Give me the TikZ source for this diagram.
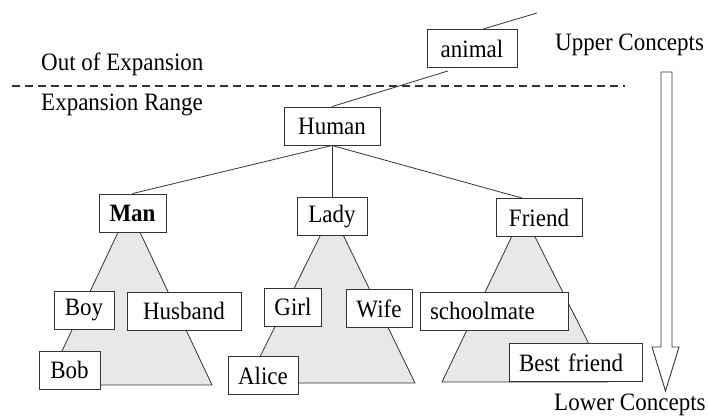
\documentclass[tikz,border=0pt]{standalone}
\usepackage{fontspec}
\setmainfont[FakeStretch=0.92]{Liberation Serif}
\usepackage{tikz}
\usetikzlibrary{calc, positioning}
\usepackage{xcolor}
\definecolor{RuleGray}{gray}{0.20}
\definecolor{AreaGray}{gray}{0.91}
\tikzset{%
  concept_box/.style={%
    rectangle,%
    draw=RuleGray,%
    fill=white,%
    line width=0.9pt,%
    minimum height=38pt,%
    inner xsep=10pt,%
    font={\fontsize{25}{29}\selectfont},%
    align=center%
  },
  tree_area/.style={%
    draw=RuleGray,%
    fill=AreaGray,%
    line width=0.8pt,%
    line join=round,%
  },
  tree_path/.style={%
    color=RuleGray,%
    line width=0.8pt,%
  },
  range_border/.style={%
    color=RuleGray,%
    line width=1.2pt,%
    dash pattern=on 8pt off 5pt,%
  },
  annotate/.style={%
    inner sep=0pt,%
    font={\fontsize{25}{29}\selectfont},%
  },
  hollow_arrow/.style={%
    draw=RuleGray,%
    fill=white,%
    line width=0.9pt,%
    line join=miter,%
  },
}

\begin{document}
\begin{tikzpicture}[x=1pt, y=-1pt]
    \useasboundingbox (0,0) rectangle (708,418);

    % shaded sub-trees
    \coordinate (man_apex) at (129,209);
    \coordinate (lady_apex) at (332,212);
    \coordinate (friend_apex) at (523,213);
    \draw [tree_area] (man_apex) -- (46,385) -- (212,385) -- cycle;
    \draw [tree_area] (lady_apex) -- (247,383) -- (415,383) -- cycle;
    \draw [tree_area] (friend_apex) -- (442,382) -- (608,382) -- cycle;

    \node [concept_box, minimum width=90pt] (Animal) at (472,48.5) {%
      animal%
    };
    \node [concept_box, minimum width=96pt] (Human) at (332,126) {%
      Human%
    };
    \node [concept_box, minimum width=67pt] (Man) at (132.5,213) {%
      \textbf{Man}%
    };
    \node [concept_box, minimum width=70pt, below = 52pt of Human] (Lady) {%
      Lady%
    };
    \node [concept_box, minimum width=86pt] (Friend) at (539,217.5) {%
      Friend%
    };
    \node [concept_box, minimum width=60pt] (Boy) at (84,310) {%
      Boy%
    };
    \node [concept_box, minimum width=114pt] (Husband) at (184,311) {%
      Husband%
    };
    \node [concept_box, minimum width=56pt] (Girl) at (293,307) {%
      Girl%
    };
    \node [concept_box, minimum width=66pt] (Wife) at (379,308.5) {%
      Wife%
    };
    \node [concept_box, text width=128pt, align=left] (Schoolmate) at (494,311) {%
      schoolmate%
    };
    \node [concept_box, minimum width=61pt] (Bob) at (69.5,370) {%
      Bob%
    };
    \node [concept_box, minimum width=70pt] (Alice) at (263,375.5) {%
      Alice%
    };
    \node [concept_box, text width=113pt, align=left] (BestFriend) at (575.5,362.5) {%
      Best friend%
    };

    \node [annotate, anchor=west] (out_label) at (41,64) {Out of Expansion};
    \node [annotate, anchor=west] (range_label) at (41,105) {Expansion Range};
    \node [annotate, anchor=west] (upper_label) at (555,45) {Upper Concepts};
    \node [annotate, anchor=west] (lower_label) at (554,405) {Lower Concepts};

    \coordinate (upper_end) at (537,13);
    \coordinate (border_start) at (12,86);
    \coordinate (border_end) at (625,86);

    \draw [range_border]
      (border_start)
      --
      (border_end);
    \draw [tree_path]
      (upper_end)
      --
      ($(Animal.north)+(11,0)$);
    \draw [tree_path]
      ($(Animal.south)+(-24,3)$)
      --
      (Human.north);
    \draw [tree_path]
      (Human.south)
      --
      (Man.north);
    \draw [tree_path]
      (Human.south)
      --
      (Lady.north);
    \draw [tree_path]
      (Human.south)
      --
      ($(Friend.north)+(-17,0)$);

    % direction of the concept levels
    \draw [hollow_arrow]
      (661,72) -- (672,72) -- (672,347) -- (679,347)
      -- (665.5,391) -- (652,347) -- (661,347) -- cycle;
  \end{tikzpicture}
\end{document}
